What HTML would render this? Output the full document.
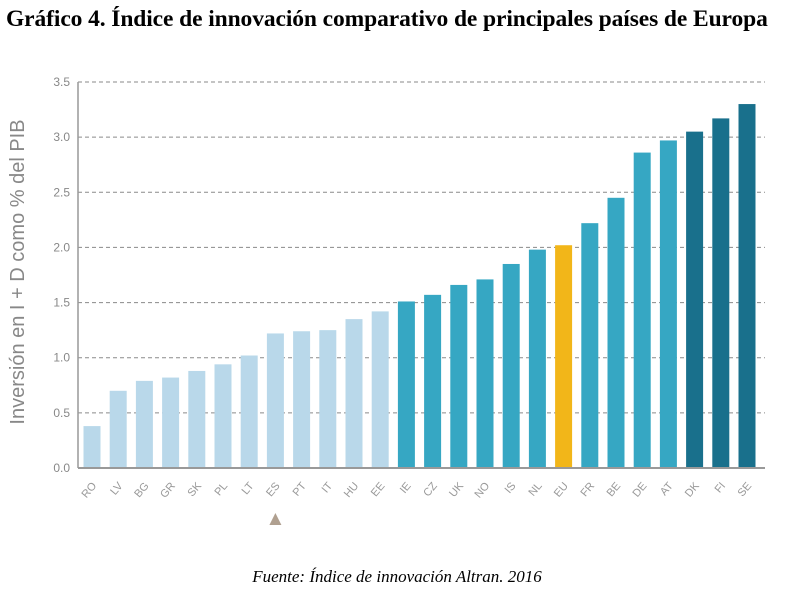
<!DOCTYPE html>
<html><head><meta charset="utf-8"><style>
body{margin:0;background:#fff;width:794px;height:600px;overflow:hidden;position:relative}
.t{position:absolute;left:6px;top:6px;font:bold 23.5px "Liberation Serif",serif;color:#000;white-space:nowrap;letter-spacing:-0.1px}
.f{position:absolute;left:0;width:794px;top:567px;text-align:center;font:italic 17px "Liberation Serif",serif}
</style></head><body>
<div class="t">Gráfico 4. Índice de innovación comparativo de principales países de Europa</div>
<svg id="c" width="794" height="600" style="position:absolute;left:0;top:0"></svg>
<div class="f">Fuente: Índice de innovación Altran. 2016</div>
<script>
const categories=["RO","LV","BG","GR","SK","PL","LT","ES","PT","IT","HU","EE","IE","CZ","UK","NO","IS","NL","EU","FR","BE","DE","AT","DK","FI","SE"];
const values=[0.38,0.70,0.79,0.82,0.88,0.94,1.02,1.22,1.24,1.25,1.35,1.42,1.51,1.57,1.66,1.71,1.85,1.98,2.02,2.22,2.45,2.86,2.97,3.05,3.17,3.30];
const groups=["l","l","l","l","l","l","l","l","l","l","l","l","m","m","m","m","m","m","eu","m","m","m","m","d","d","d"];
const ticks=[0,0.5,1.0,1.5,2.0,2.5,3.0,3.5];
const col={l:"#b9d8ea",m:"#36a7c3",d:"#19708c",eu:"#f2b619"};
const svg=document.getElementById('c'),NS="http://www.w3.org/2000/svg";
const x0=78,x1=765,yb=468,yt=82;
const y=v=>yb-(v/3.5)*(yb-yt);
const xc=i=>92+i*(747-92)/(categories.length-1);
function el(t,a,p){const e=document.createElementNS(NS,t);for(const k in a)e.setAttribute(k,a[k]);(p||svg).appendChild(e);return e;}
ticks.forEach(v=>{
 const g=el('line',{x1:x0,x2:x1,y1:y(v),y2:y(v),stroke:"#8a8a8a","stroke-dasharray":"4 3","stroke-width":1});
 
 
 const t=el('text',{x:70,y:y(v)+4,"text-anchor":"end","font-family":"Liberation Sans, sans-serif","font-size":12,fill:"#888"});
 t.textContent=v.toFixed(1);
 
 
});
categories.forEach((c,i)=>{
 const r=el('rect',{x:xc(i)-8.5,y:y(values[i]),width:17,height:yb-y(values[i]),fill:col[groups[i]]});
 
 
 const t=el('text',{transform:`translate(${xc(i)+5},${486}) rotate(-50)`,"text-anchor":"end","font-family":"Liberation Sans, sans-serif","font-size":11,fill:"#999"});
 t.textContent=c;
 
 
});
const ax=el('line',{x1:x0,x2:x0,y1:yt,y2:yb,stroke:"#999","stroke-width":1.5});


const bx=el('line',{x1:x0,x2:x1,y1:yb,y2:yb,stroke:"#999","stroke-width":2});


const es=categories.indexOf("ES");
const tri=el('polygon',{points:`${xc(es)-6},${525} ${xc(es)+6},${525} ${xc(es)},${513}`,fill:"#b0a090"});


const yt2=el('text',{transform:"translate(24,272) rotate(-90)","text-anchor":"middle","font-family":"Liberation Sans, sans-serif","font-size":20,fill:"#888"});
yt2.textContent="Inversión en I + D como % del PIB";


</script>
</body></html>
